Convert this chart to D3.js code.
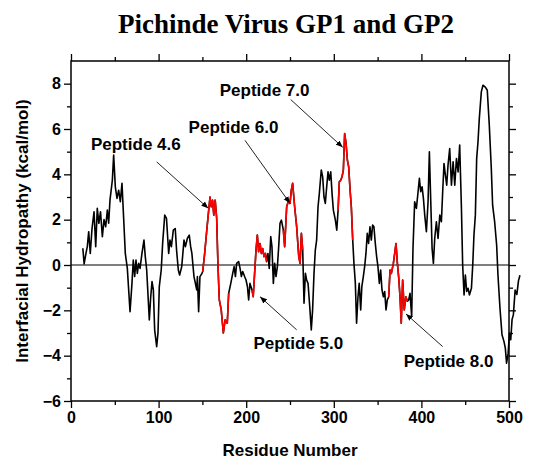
<!DOCTYPE html>
<meta charset="utf-8">
<body style="margin:0;background:#fff">
<script src="https://cdn.jsdelivr.net/npm/d3@7/dist/d3.min.js"></script>
<script>

// hydropathy profile (residue, kcal/mol)
var residues = [13.5,15,17,18.6,20.2,22,24,26.3,28.2,30,31.8,33.7,35.8,37.7,39.6,41.5,43,44.5,47.2,48.7,
  50.6,52.5,54.4,56.3,58.2,60.1,62,64.3,67.4,69.6,71.1,72.7,74.2,75.7,77.3,78.8,81,83.3,84.8,86.4,
  89.4,91,92.5,94,95.5,97.8,99.3,100.8,103,104.6,107,109,111.5,113,114.6,116.8,119,120.5,122.5,124,
  126.4,129,130.6,132.8,135,136.6,138,140.4,142,143.5,144.3,145.7,147.2,149.5,
  150.3,152.6,155,157.2,158.7,160,161.6,163,164.6,166.3,167.8,169.3,171.5,173.9,176,178.4,180,
  182.4,184.6,186.2,187.7,189.1,191.4,193,194.5,196,198.2,199.8,201.4,202.8,204.3,
  206.6,208,209.6,211.2,212.7,214.2,215.8,217.3,218.8,220.3,221.9,223.3,
  224.8,226.3,228,229.4,231,232.5,234,235.6,237.1,238.6,240.2,
  242.4,243.9,246.2,248.5,250,251.5,253,255.3,257.6,260,261.5,263,264.5,
  266,267.6,269,270.6,272.8,274.3,275.8,277.4,278.9,280.4,282,283.5,285.7,287.3,288.8,290.3,291.9,
  293.4,294.9,296.5,298,299.5,301.8,303.4,
  304.9,306.3,307.9,309.4,310.9,312.4,314,315.5,317,318.6,320,321.6,
  323,324.6,326,327.6,329,330.7,332,333.7,335.2,336.7,338.2,339.7,341.3,342.8,344.3,345.8,347.4,
  348.9,350.4,352,353.5,355,356.6,358.1,359.6,361.1,
  362.7,364.2,365.7,368,369.5,371,372.6,374,375.6,377,378.6,380.4,382.3,384,
  385.5,387,388.9,390.4,392.3,394.3,396.2,397.7,399.2,400.8,402.3,403.8,405.7,407.6,409.1,410.7,
  412.2,413.7,415.2,417.1,419,421,422.8,424.3,425.8,427.4,428.9,430.4,432.3,434.3,436.2,438.1,
  440,441.9,443.7,445.7,447.1,448.7,450.2,451.7,453.3,454.8,457.1,458.6,460,461.6,463.1,464.6,
  466.1,468.4,470.3,473,475.2,477.5,479.8,481.3,483.6,485.9,487.4,489.7,492,494.3,495.8,497.2,
  499,500.5,502,503.5,505,507,509,510.8,512.5];

var hydropathy = [0.74,0.05,0.5,0.81,1.47,0.51,1.61,2.35,0.81,2.5,1.84,2.35,1.25,2.0,1.69,2.42,1.84,2.86,3.74,4.85,
  3.45,2.94,3.3,2.79,3.6,2.06,0.51,-0.15,-2.06,-0.81,0.22,-0.51,0.22,-0.37,0.07,-0.15,0.51,1.1,0.37,-0.22,
  -2.42,-1.4,-0.73,-1.1,-2.86,-3.6,-3.0,-0.95,-0.22,0.95,2.2,2.06,0.51,1.1,0.81,1.54,1.61,0.66,-0.22,-0.44,
  -0.07,1.1,0.81,1.17,1.32,0.81,0.51,-0.51,-0.81,-1.1,-0.51,-2.06,-0.51,-0.37,
  -0.3,0.51,1.54,2.42,3.0,2.57,2.86,2.2,2.86,2.06,-0.07,-1.54,-1.98,-3.0,-2.42,-2.57,-1.25,
  -0.81,-0.37,-0.07,-0.51,0.07,0.15,-0.15,-0.51,-0.29,-0.51,-0.66,-0.95,-1.54,-0.81,
  -1.1,-1.4,-0.37,0.66,1.32,0.59,0.95,0.51,0.73,0.37,0.51,0.15,
  0.51,-0.15,1.25,0.81,-0.81,0.07,-0.51,-0.07,0.81,1.84,1.98,
  1.54,0.81,2.57,2.86,2.72,3.3,3.6,2.57,1.69,0.37,0.07,1.4,0.66,
  -1.69,-0.37,-0.66,-0.81,-1.98,-2.86,-1.98,-0.37,0.66,1.1,2.57,3.16,4.19,3.89,3.0,2.72,3.45,
  4.11,3.74,4.11,3.16,2.42,1.98,1.54,
  2.42,3.67,3.74,3.89,4.19,5.8,5.36,4.63,4.33,3.3,2.57,1.1,
  0.07,-0.81,-2.57,-1.4,-0.81,-1.98,-0.95,-0.51,-0.07,0.51,1.4,0.95,1.69,1.1,1.76,1.69,0.95,
  0.37,-0.07,-0.81,-0.22,-1.1,-1.4,-1.17,-1.98,-1.54,
  -1.4,-0.22,-0.37,0.07,0.51,0.95,0.07,-0.51,-1.4,-2.57,-0.66,-1.98,-1.4,-1.6,
  -1.54,-1.25,-2.27,0.73,2.79,2.5,3.23,3.82,3.23,3.45,2.94,2.2,1.47,2.79,4.99,2.79,
  0.73,0.07,1.17,1.91,1.17,2.2,1.91,3.23,4.48,3.96,3.52,4.41,5.14,3.52,4.55,3.52,
  4.7,4.11,5.29,2.5,0,-1.32,-0.44,-1.17,-1.03,-1.32,-1.03,0,1.32,2.2,4.7,5.43,
  6.46,7.64,7.93,7.85,7.71,6.17,4.26,2.64,1.91,0.88,-0.44,-1.91,-3.08,-3.38,-3.67,-4.33,
  -3.9,-3.0,-3.3,-2.4,-2.2,-1.1,-1.3,-0.7,-0.45];

// peptides shown in red
var peptideNames = ["Peptide 4.6", "Peptide 5.0", "Peptide 6.0", "Peptide 7.0", "Peptide 8.0"];
var peptideStart = [150, 206, 242, 304, 362];
var peptideEnd = [180.5, 224, 265, 322, 384.5];

// label and arrow places, in data units
var labelRes = [74, 259.5, 185.5, 221, 431];
var labelVal = [5.07, -3.7, 5.81, 7.44, -4.48];
var arrowFromRes = [97.8, 257.6, 198.6, 250.8, 424.3];
var arrowFromVal = [4.55, -2.86, 5.5, 7.3, -3.6];
var arrowToRes = [156.7, 215.8, 250, 310.2, 382.4];
var arrowToVal = [2.5, -1.4, 2.72, 5.19, -2.16];

var xTicks = [0, 100, 200, 300, 400, 500];
var yTicks = [-6, -4, -2, 0, 2, 4, 6, 8];

var margin = {top: 61, right: 31, bottom: 59, left: 71},
    width = 540 - margin.left - margin.right,
    height = 460 - margin.top - margin.bottom;

var svg = d3.select("body").append("svg")
    .attr("width", 540)
    .attr("height", 460)
    .style("display", "block");

var g = svg.append("g")
    .attr("transform", "translate(" + margin.left + "," + margin.top + ")");

var x = d3.scaleLinear().domain([0, 500]).range([0, width]);
var y = d3.scaleLinear().domain([-6, 9]).range([height, 0]);

var sans = "'Liberation Sans', Arial, sans-serif";

svg.append("text")
    .attr("x", 286)
    .attr("y", 33)
    .attr("text-anchor", "middle")
    .style("font-family", "'Liberation Serif', 'Times New Roman', serif")
    .style("font-weight", "bold")
    .style("font-size", "27px")
    .text("Pichinde Virus GP1 and GP2");

// minor ticks first, then major ticks with labels
function styleAxis(sel) {
  sel.select(".domain").remove();
  sel.selectAll("line").attr("stroke", "#000").attr("stroke-width", 1.3);
  sel.selectAll("text")
    .style("font-family", sans)
    .style("font-weight", "bold")
    .style("font-size", "16px")
    .attr("fill", "#000");
}

var minorX = d3.range(50, 500, 100);
var minorY = d3.range(-5, 9, 2);

g.append("g").attr("transform", "translate(0," + height + ")")
    .call(d3.axisBottom(x).tickValues(minorX).tickSize(4).tickFormat(""))
    .call(styleAxis);
g.append("g").attr("transform", "translate(0," + height + ")")
    .call(d3.axisBottom(x).tickValues(xTicks).tickSize(7).tickPadding(4).tickFormat(d3.format("d")))
    .call(styleAxis);

g.append("g")
    .call(d3.axisTop(x).tickValues(minorX).tickSize(4).tickFormat(""))
    .call(styleAxis);
g.append("g")
    .call(d3.axisTop(x).tickValues(xTicks).tickSize(7).tickFormat(""))
    .call(styleAxis);

g.append("g")
    .call(d3.axisLeft(y).tickValues(minorY).tickSize(4).tickFormat(""))
    .call(styleAxis);
g.append("g")
    .call(d3.axisLeft(y).tickValues(yTicks).tickSize(7).tickPadding(3).tickFormat(d3.format("d")))
    .call(styleAxis);

g.append("g").attr("transform", "translate(" + width + ",0)")
    .call(d3.axisRight(y).tickValues(minorY).tickSize(4).tickFormat(""))
    .call(styleAxis);
g.append("g").attr("transform", "translate(" + width + ",0)")
    .call(d3.axisRight(y).tickValues(yTicks).tickSize(7).tickFormat(""))
    .call(styleAxis);

g.append("rect")
    .attr("width", width)
    .attr("height", height)
    .attr("fill", "none")
    .attr("stroke", "#000")
    .attr("stroke-width", 1.5);

// zero line
g.append("line")
    .attr("x1", 0).attr("x2", width)
    .attr("y1", y(0)).attr("y2", y(0))
    .attr("stroke", "#000")
    .attr("stroke-width", 1.2);

var points = residues.map(function(r, i) { return [r, hydropathy[i]]; });

var line = d3.line()
    .x(function(d) { return x(d[0]); })
    .y(function(d) { return y(d[1]); });

// the original trace runs a little past the right frame, so no clipping
g.append("path")
    .datum(points)
    .attr("fill", "none")
    .attr("stroke", "#000")
    .attr("stroke-width", 1.6)
    .attr("stroke-linejoin", "round")
    .attr("d", line);

peptideNames.forEach(function(name, i) {
  var seg = points.filter(function(d) { return d[0] >= peptideStart[i] && d[0] <= peptideEnd[i]; });
  g.append("path")
      .datum(seg)
      .attr("fill", "none")
      .attr("stroke", "#ff0000")
      .attr("stroke-width", 1.6)
      .attr("stroke-linejoin", "round")
      .attr("d", line);
});

svg.append("defs").append("marker")
    .attr("id", "head")
    .attr("viewBox", "0 0 10 10")
    .attr("refX", 10)
    .attr("refY", 5)
    .attr("markerWidth", 7)
    .attr("markerHeight", 7)
    .attr("markerUnits", "userSpaceOnUse")
    .attr("orient", "auto")
  .append("path")
    .attr("d", "M0,1L10,5L0,9Z")
    .attr("fill", "#000");

peptideNames.forEach(function(name, i) {
  g.append("line")
      .attr("x1", x(arrowFromRes[i])).attr("y1", y(arrowFromVal[i]))
      .attr("x2", x(arrowToRes[i])).attr("y2", y(arrowToVal[i]))
      .attr("stroke", "#222")
      .attr("stroke-width", 1)
      .attr("marker-end", "url(#head)");

  g.append("text")
      .attr("x", x(labelRes[i]))
      .attr("y", y(labelVal[i]))
      .attr("text-anchor", "middle")
      .style("font-family", sans)
      .style("font-weight", "bold")
      .style("font-size", "17px")
      .text(name);
});

svg.append("text")
    .attr("x", margin.left + width / 2)
    .attr("y", 456)
    .attr("text-anchor", "middle")
    .style("font-family", sans)
    .style("font-weight", "bold")
    .style("font-size", "17px")
    .text("Residue Number");

svg.append("text")
    .attr("transform", "translate(28," + (margin.top + y(1.5)) + ")rotate(-90)")
    .attr("text-anchor", "middle")
    .style("font-family", sans)
    .style("font-weight", "bold")
    .style("font-size", "17px")
    .text("Interfacial Hydropathy (kcal/mol)");

</script>
